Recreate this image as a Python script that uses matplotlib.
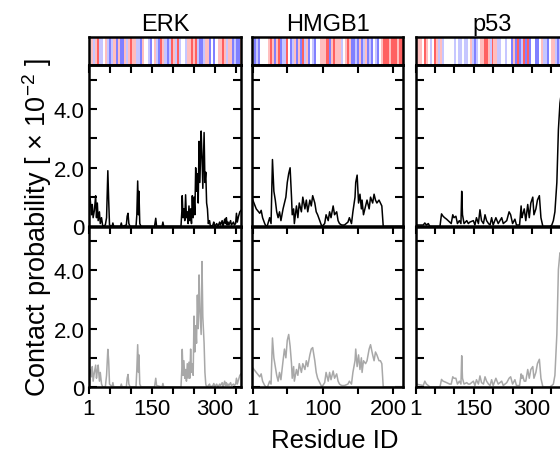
"""Residue-wise contact probability profiles for ERK, HMGB1 and p53."""

import matplotlib
matplotlib.use('Agg')
import matplotlib.pyplot as plt
import matplotlib.transforms as mtransforms
import numpy as np


plt.rcParams['font.family'] = ['Liberation Sans', 'DejaVu Sans']
plt.rcParams['mathtext.fontset'] = 'custom'
plt.rcParams['mathtext.rm'] = 'Liberation Sans'
plt.rcParams['mathtext.it'] = 'Liberation Sans:italic'
plt.rcParams['mathtext.bf'] = 'Liberation Sans:bold'

PROTEINS = ['ERK', 'HMGB1', 'p53']
X_MAX = [364, 214, 394]
X_TICKS = [[1, 50, 100, 150, 200, 250, 300, 350],
           [1, 50, 100, 150, 200],
           [1, 50, 100, 150, 200, 250, 300, 350]]
X_TICK_LABELS = [['1', '', '', '150', '', '', '300', ''],
                 ['1', '', '100', '', '200'],
                 ['1', '', '', '150', '', '', '300', '']]
Y_TICKS = [0, 1, 2, 3, 4, 5]
Y_TICK_LABELS = ['0', '', '2.0', '', '4.0', '']

# residue colour strip, read left to right (R/r red, ./white, b/B blue)
STRIP_ERK = '.rbrRbb.rbBbrBrBBrbrRrrbbBr..bB.rbBRrbBbRrbRb..brrRrRbBBbrrB.B.rrRrbrrBbBBr'
STRIP_HMGB1 = 'bBbB....rRrBrRBbbR.BbrBrBRbrB.bB..rrrRBrRrrrb.rRrBBbBrBbrBbB.bB.rRRRrRRRrRR'
STRIP_P53 = 'rrr.Rr.b.Rrbrb.....b.bb.bb.rbBb.rrRRrbRrrbb..b..BrBRBbRBRB..BB.rbbB.rrbBb.r.B'
STRIP_LEVELS = {'R': 0.62, 'r': 0.25, '.': 0.0, 'b': -0.22, 'B': -0.5}

# contact probability (x 1e-2), top row = black, bottom row = grey
ERK_RES_A = [1, 4, 7, 9, 11, 14, 17, 19, 21, 23, 26, 28, 31, 34, 40, 43, 46, 48, 50,
             56, 58, 60, 76, 78, 80, 90, 92, 94, 96, 99, 113, 115, 117, 119, 120, 122, 125,
             157, 160, 162, 175, 177, 179, 220, 222, 223, 225, 227, 229, 231, 233, 235,
             237, 239, 241, 243, 245, 247, 249, 251, 253, 255, 257, 259, 261, 263, 265,
             268, 270, 272, 275, 277, 279, 281, 283, 285, 288, 290, 296, 298, 300, 305,
             308, 312, 314, 318, 320, 324, 326, 328, 330, 332, 334, 338, 340, 345, 347,
             350, 352, 354, 357, 360, 363]
ERK_TOP = [1.0, 0.95, 0.4, 0.75, 0.3, 0.55, 1.05, 0.3, 0.8, 0.2, 0.5, 0.1, 0.3, 0.0, 0.05, 0.3, 1.9, 0.9, 0.05,
           0.0, 0.12, 0.0, 0.0, 0.12, 0.0, 0.05, 0.35, 0.45, 0.1, 0.0, 0.0, 0.4, 1.55, 0.4, 1.2, 0.1, 0.0,
           0.0, 0.28, 0.0, 0.0, 0.15, 0.0, 0.0, 0.5, 1.05, 0.3, 0.6, 0.2, 1.08, 0.3, 0.5,
           0.1, 0.7, 0.2, 0.6, 0.1, 1.05, 0.3, 1.0, 0.4, 2.0, 1.2, 1.8, 0.8, 2.9, 1.5,
           3.25, 2.4, 1.3, 3.2, 1.5, 1.85, 0.8, 0.6, 0.1, 0.2, 0.0, 0.05, 0.15, 0.0, 0.1,
           0.0, 0.15, 0.05, 0.2, 0.0, 0.25, 0.1, 0.3, 0.05, 0.15, 0.05, 0.2, 0.05, 0.15, 0.05,
           0.1, 0.45, 0.15, 0.35, 0.5, 0.55]
ERK_BOTTOM = [0.45, 0.6, 0.35, 0.7, 0.2, 0.5, 0.75, 0.3, 0.55, 0.75, 0.2, 0.5, 0.1, 0.0, 0.0, 0.4, 1.29, 0.9, 0.1,
              0.0, 0.15, 0.0, 0.0, 0.1, 0.0, 0.0, 0.3, 0.43, 0.1, 0.0, 0.0, 0.6, 1.45, 0.5, 1.1, 0.1, 0.0,
              0.0, 0.3, 0.05, 0.0, 0.12, 0.0, 0.0, 0.6, 1.29, 0.4, 0.9, 0.3, 0.6, 0.2, 0.8,
              0.3, 0.85, 0.3, 1.3, 0.5, 0.8, 0.4, 2.43, 1.2, 2.1, 1.5, 3.15, 2.0, 3.84, 2.66,
              1.8, 4.3, 2.4, 1.5, 0.5, 0.1, 0.0, 0.0, 0.05, 0.1, 0.0, 0.05, 0.12, 0.0, 0.1,
              0.0, 0.1, 0.05, 0.15, 0.0, 0.2, 0.05, 0.15, 0.05, 0.1, 0.05, 0.15, 0.05, 0.1, 0.05,
              0.1, 0.3, 0.1, 0.25, 0.4, 0.45]

HMGB1_RES_A = [1, 6, 11, 13, 15, 18, 20, 22, 25, 27, 29, 31, 33, 35, 37, 39, 41, 44, 46, 48,
               50, 52, 54, 56, 57, 59, 60, 63, 65, 67, 70, 72, 75, 77, 79, 82, 84, 86, 89,
               91, 93, 96, 99, 103, 105, 108, 110, 112, 115, 117, 120, 122, 124, 127, 131,
               136, 138, 141, 143, 146, 147, 149, 151, 153, 155, 156, 158, 161, 163, 166,
               168, 171, 173, 175, 177, 180, 182, 184, 186, 214]
HMGB1_TOP = [0.91, 0.6, 0.45, 0.55, 0.3, 0.1, 0.0, 0.05, 0.3, 0.1, 2.28, 1.2, 0.9, 0.5, 0.3, 0.5, 0.2, 0.6, 0.8, 1.0,
             1.5, 1.8, 2.0, 1.0, 0.4, 0.6, 0.1, 0.7, 0.3, 0.8, 0.5, 1.0, 0.6, 0.9, 0.5, 0.9, 0.7, 1.05, 0.8,
             0.5, 0.4, 0.2, 0.0, 0.1, 0.4, 0.2, 0.5, 0.3, 0.7, 0.4, 0.5, 0.2, 0.1, 0.05, 0.05,
             0.15, 0.3, 0.1, 0.5, 1.0, 1.5, 1.75, 0.8, 1.1, 0.6, 0.9, 0.4, 0.7, 0.9, 0.6,
             1.0, 0.8, 1.1, 0.9, 0.8, 0.9, 0.8, 0.7, 0.0, 0.0]
HMGB1_BOTTOM = [0.66, 0.5, 0.35, 0.45, 0.2, 0.05, 0.0, 0.0, 0.2, 0.1, 1.68, 1.0, 0.7, 0.4, 0.2, 0.5, 0.25, 0.9, 1.3, 1.0,
                1.6, 1.8, 1.4, 0.8, 0.3, 0.7, 0.2, 0.6, 0.4, 0.8, 0.5, 0.8, 0.6, 0.9, 0.7, 1.1, 1.3, 1.35, 0.9,
                0.5, 0.3, 0.15, 0.0, 0.15, 0.5, 0.2, 0.5, 0.25, 0.55, 0.3, 0.45, 0.2, 0.1, 0.05, 0.05,
                0.1, 0.2, 0.1, 0.5, 0.9, 1.3, 0.7, 1.1, 0.6, 1.0, 0.5, 0.9, 0.8, 0.9, 1.3,
                1.45, 1.1, 0.9, 1.2, 1.1, 0.9, 0.9, 0.8, 0.0, 0.0]

P53_RES_A = [1, 20, 24, 28, 33, 37, 63, 67, 71, 75, 80, 88, 92, 96, 99, 104, 108, 113, 117,
             119, 121, 125, 132, 136, 140, 149, 153, 157, 162, 166, 170, 175, 179, 183, 188,
             192, 196, 200, 207, 213, 222, 226, 235, 241, 245, 250, 256, 260, 268, 272, 274,
             276, 280, 284, 289, 293, 297, 302, 305, 310, 314, 319, 323, 328, 346, 351, 355,
             359, 364, 368, 372, 376, 380, 385, 390, 394]
P53_TOP = [0.05, 0.05, 0.12, 0.05, 0.1, 0.0, 0.0, 0.43, 0.35, 0.3, 0.25, 0.15, 0.1, 0.4, 0.3, 0.35, 0.1, 0.2, 0.1,
           1.2, 0.4, 0.1, 0.2, 0.1, 0.15, 0.2, 0.05, 0.3, 0.1, 0.57, 0.2, 0.1, 0.4, 0.2, 0.1,
           0.05, 0.3, 0.05, 0.3, 0.1, 0.3, 0.1, 0.2, 0.5, 0.4, 0.1, 0.25, 0.05, 0.05, 0.7, 0.3,
           0.4, 0.6, 0.2, 0.75, 0.3, 0.8, 1.0, 0.4, 0.6, 0.9, 1.05, 0.3, 0.0, 0.0, 0.05, 0.2,
           0.5, 1.5, 3.3, 4.2, 4.6, 3.5, 1.5, 0.3, 0.1]
P53_BOTTOM = [0.1, 0.05, 0.2, 0.1, 0.05, 0.0, 0.0, 0.26, 0.2, 0.18, 0.15, 0.1, 0.1, 0.35, 0.3, 0.3, 0.1, 0.2, 0.1,
              1.07, 0.3, 0.1, 0.15, 0.1, 0.1, 0.2, 0.05, 0.25, 0.1, 0.38, 0.15, 0.1, 0.35, 0.2, 0.1,
              0.05, 0.25, 0.05, 0.3, 0.1, 0.2, 0.05, 0.15, 0.3, 0.35, 0.1, 0.25, 0.05, 0.05, 0.45, 0.3,
              0.4, 0.2, 0.2, 0.6, 0.3, 0.6, 0.7, 0.3, 0.5, 0.8, 0.95, 0.3, 0.0, 0.0, 0.05, 0.1,
              0.4, 1.8, 4.03, 4.6, 4.5, 3.6, 1.6, 0.4, 0.1]

W, H = 560, 456
LEFTS = [88.5, 252, 415.5]
WIDTHS = [153, 151, 153]


def _rect(left, top, width, height):
    return [left / W, 1 - (top + height) / H, width / W, height / H]


def _style_profile(ax, i, show_xlabels):
    ax.set_xlim(0, X_MAX[i])
    ax.set_ylim(0, 5.5)
    for sp in ax.spines.values():
        sp.set_linewidth(1.8)
    ax.set_yticks(Y_TICKS)
    ax.set_yticklabels(Y_TICK_LABELS if i == 0 else [''] * len(Y_TICKS))
    ax.tick_params(axis='y', direction='in', left=True, right=True, length=6, width=1.5,
                   labelsize=16, pad=3)
    ax.set_xticks(X_TICKS[i])
    ax.set_xticklabels(X_TICK_LABELS[i] if show_xlabels else [''] * len(X_TICKS[i]))
    ax.tick_params(axis='x', direction='out', bottom=show_xlabels, top=False, length=5,
                   width=1.5, labelsize=16, pad=3)
    # top ticks point inward, bottom ticks outward
    top = ax.secondary_xaxis('top')
    top.set_xticks(X_TICKS[i])
    top.set_xticklabels([])
    top.tick_params(direction='in', length=6, width=1.5)
    top.spines['top'].set_linewidth(1.8)


def main() -> None:
    strips = [STRIP_ERK, STRIP_HMGB1, STRIP_P53]
    res_lists = [ERK_RES_A, HMGB1_RES_A, P53_RES_A]
    tops = [ERK_TOP, HMGB1_TOP, P53_TOP]
    bottoms = [ERK_BOTTOM, HMGB1_BOTTOM, P53_BOTTOM]

    fig = plt.figure(figsize=(W / 100, H / 100), dpi=100)

    for i, name in enumerate(PROTEINS):
        left, width = LEFTS[i], WIDTHS[i]

        ax_s = fig.add_axes(_rect(left, 38, width, 28))
        levels = np.array([[STRIP_LEVELS[c] for c in strips[i]]])
        ax_s.imshow(levels, cmap='bwr', vmin=-1, vmax=1, aspect='auto',
                    interpolation='nearest', extent=(0, X_MAX[i], 0, 1))
        ax_s.set_xlim(0, X_MAX[i])
        ax_s.set_xticks([])
        ax_s.set_yticks([])
        for sp in ax_s.spines.values():
            sp.set_linewidth(1.8)
        ax_s.set_title(name, fontsize=17, pad=5)

        ax_a = fig.add_axes(_rect(left, 66, width, 161.5))
        ax_a.plot(res_lists[i], tops[i], color='black', lw=1.1)
        _style_profile(ax_a, i, False)

        ax_b = fig.add_axes(_rect(left, 227.5, width, 160.5))
        ax_b.plot(res_lists[i], bottoms[i], color='#a8a8a8', lw=1.1)
        _style_profile(ax_b, i, True)

        if name == 'HMGB1':
            # the last label sits a little left of its tick, clear of p53's "1"
            lab = ax_b.get_xticklabels()[-1]
            lab.set_transform(lab.get_transform()
                              + mtransforms.ScaledTranslation(-5 / 100, 0, fig.dpi_scale_trans))

    fig.text(37 / W, 1 - 228 / H, 'Contact probability [ \u00d7 10$^{-2}$ ]', rotation=90,
             ha='center', va='center', fontsize=19.5)
    fig.text(335 / W, 1 - 441 / H, 'Residue ID', ha='center', va='center', fontsize=18.5)

    fig.savefig('out.png', dpi=100)
    print('Saved out.png')


if __name__ == '__main__':
    main()
